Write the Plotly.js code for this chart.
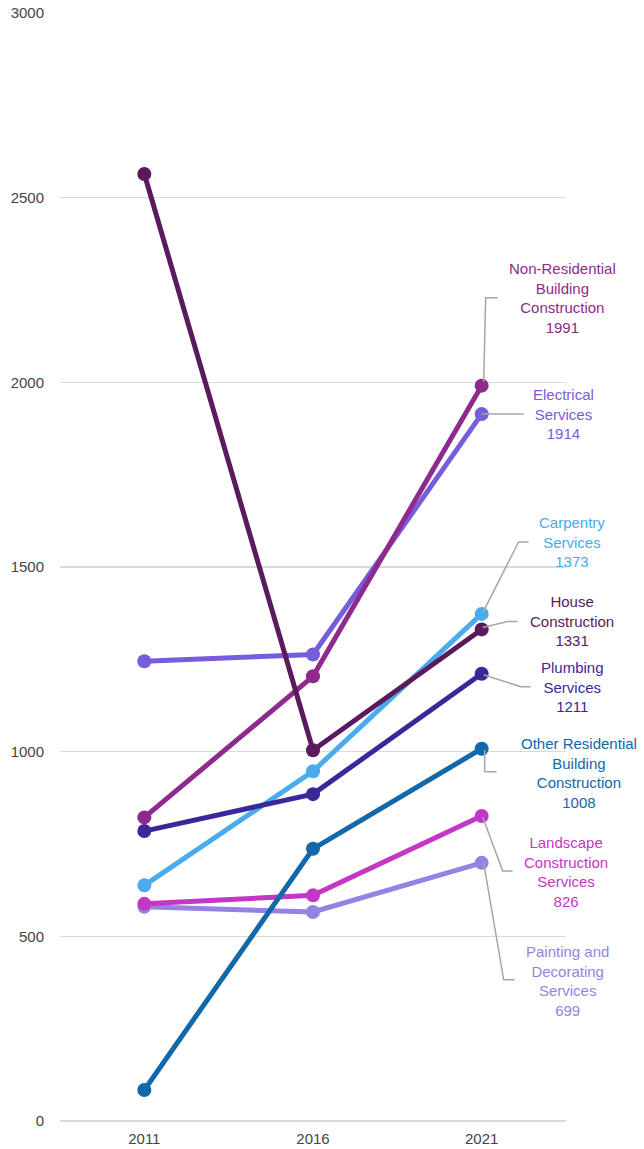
<!DOCTYPE html>
<html>
<head>
<meta charset="utf-8">
<script src="https://cdn.plot.ly/plotly-3.0.1.min.js"></script>
<style>
  html, body { margin: 0; padding: 0; background: #ffffff; }
  #chart { width: 644px; height: 1149px; }
</style>
</head>
<body>
<div id="chart"></div>
<script>
// Census years on the category axis
const years = ['2011', '2016', '2021'];

// Businesses by industry, one array per series
const houseConstruction = [2564, 1004, 1331];
const nonResidential = [822, 1204, 1991];
const electrical = [1245, 1263, 1914];
const carpentry = [638, 947, 1373];
const plumbing = [785, 885, 1211];
const otherResidential = [84, 737, 1008];
const landscape = [588, 611, 826];
const painting = [580, 566, 699];

// Series names as shown in the end labels
const seriesNames = [
  'Painting and<br>Decorating<br>Services',
  'Landscape<br>Construction<br>Services',
  'Other Residential<br>Building<br>Construction',
  'Carpentry<br>Services',
  'Plumbing<br>Services',
  'Electrical<br>Services',
  'Non-Residential<br>Building<br>Construction',
  'House<br>Construction'
];
const seriesValues = [painting, landscape, otherResidential, carpentry, plumbing, electrical, nonResidential, houseConstruction];
const seriesColors = ['#9682e2', '#c437c4', '#1268a8', '#4aabee', '#3c279a', '#775ddb', '#8e2a8e', '#5a1a5c'];

// End-label placement (pixel offsets from the 2021 point) and elbow leader paths
const labelOffsets = [
  [86, -118], [84, -56], [97, -24], [90, 72], [91, -13], [82, 0], [81, 88], [90, 8]
];
const leaderPaths = [
  'M 2 0 L 22 -117 L 33 -117',
  'M 1 -1 L 21 -55 L 31 -55',
  'M 3 -1 L 3 -23 L 15 -23',
  'M 1 1 L 37 72 L 47 72',
  'M 2 -1 L 39 -13 L 49 -13',
  'M 0 0 L 42 0',
  'M 2 4 L 4 88 L 16 88',
  'M 1 2 L 26 8 L 36 8'
];

const traces = seriesValues.map((vals, i) => ({
  type: 'scatter',
  mode: 'lines+markers',
  x: years,
  y: vals,
  name: seriesNames[i].replace(/<br>/g, ' '),
  line: { color: seriesColors[i], width: 5 },
  marker: { color: seriesColors[i], size: 14 },
  hoverinfo: 'x+y+name'
}));

// index of the last year on the category axis
const last = years.length - 1;
const annotations = seriesValues.map((vals, i) => ({
  x: last,
  y: vals[last],
  xref: 'x',
  yref: 'y',
  xshift: labelOffsets[i][0],
  yshift: labelOffsets[i][1],
  text: seriesNames[i] + '<br>' + vals[last],
  showarrow: false,
  align: 'center',
  xanchor: 'center',
  yanchor: 'middle',
  font: { family: 'Liberation Sans, Arial, sans-serif', size: 15, color: seriesColors[i] }
}));

const shapes = seriesValues.map((vals, i) => ({
  type: 'path',
  xref: 'x',
  yref: 'y',
  xsizemode: 'pixel',
  ysizemode: 'pixel',
  xanchor: last,
  yanchor: vals[last],
  path: leaderPaths[i],
  line: { color: '#a6a6a6', width: 1.5 },
  layer: 'above'
}));

const layout = {
  width: 644,
  height: 1149,
  margin: { l: 60, r: 78, t: 13, b: 28 },
  paper_bgcolor: '#ffffff',
  plot_bgcolor: '#ffffff',
  showlegend: false,
  font: { family: 'Liberation Sans, Arial, sans-serif', size: 15, color: '#444444' },
  xaxis: {
    type: 'category',
    range: [-0.5, 2.5],
    showgrid: false,
    zeroline: false,
    showline: false,
    ticks: 'outside',
    ticklen: 4,
    tickcolor: 'rgba(0,0,0,0)',
    tickfont: { size: 15, color: '#444444' },
    automargin: false,
    fixedrange: true
  },
  yaxis: {
    range: [0, 3000],
    tickvals: [0, 500, 1000, 1500, 2000, 2500, 3000],
    showgrid: true,
    gridcolor: '#d9d9d9',
    gridwidth: 1.5,
    zeroline: true,
    zerolinecolor: '#d9d9d9',
    zerolinewidth: 1.5,
    showline: false,
    ticks: 'outside',
    ticklen: 12,
    tickcolor: 'rgba(0,0,0,0)',
    tickfont: { size: 15, color: '#444444' },
    automargin: false,
    fixedrange: true
  },
  annotations: annotations,
  shapes: shapes
};

Plotly.newPlot('chart', traces, layout, { displayModeBar: false, staticPlot: true });
</script>
</body>
</html>
